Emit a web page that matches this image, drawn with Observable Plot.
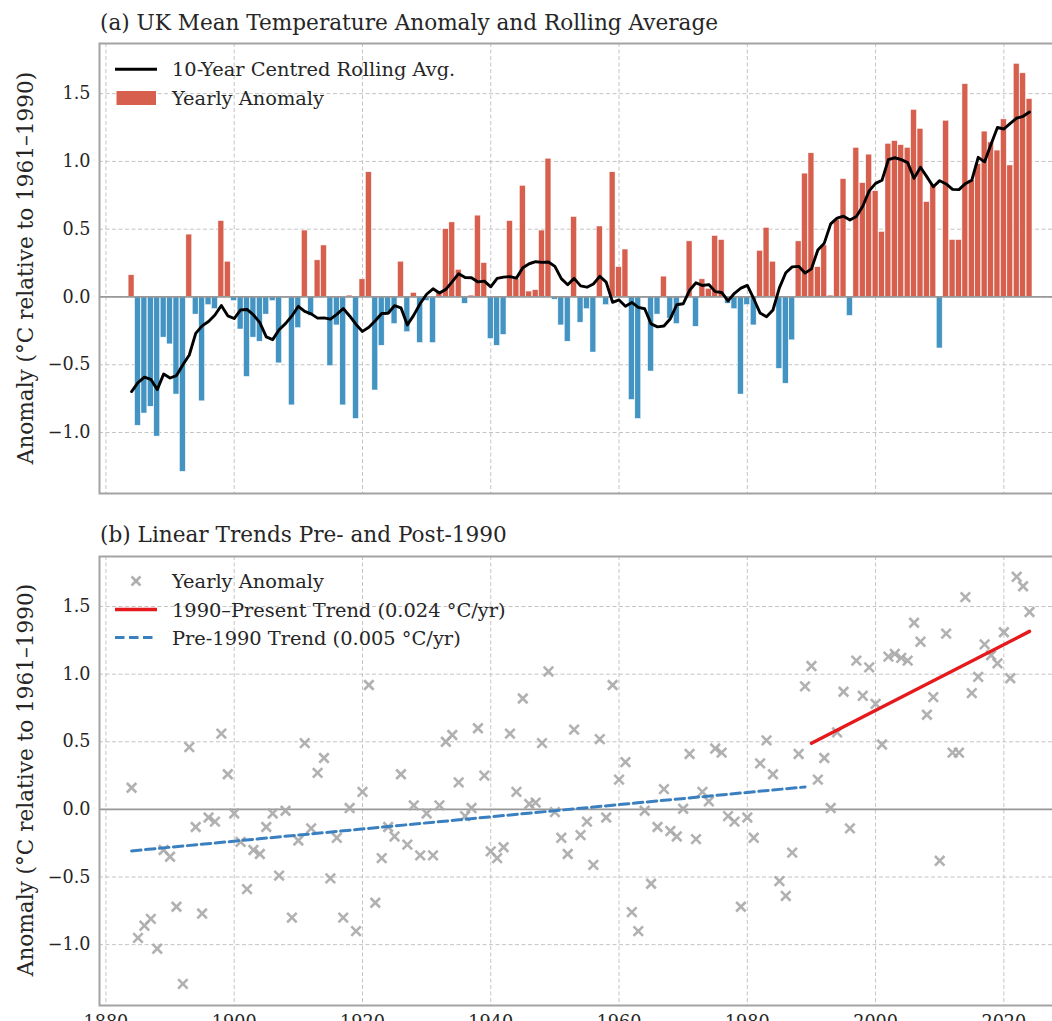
<!DOCTYPE html>
<html>
<head>
<meta charset="utf-8">
<script src="https://cdn.jsdelivr.net/npm/d3@7"></script>
<script src="https://cdn.jsdelivr.net/npm/@observablehq/plot@0.6"></script>
<style>
  html, body { margin: 0; padding: 0; background: #fff; overflow: hidden; width: 1052px; height: 1021px; }
  #root { position: relative; width: 1052px; height: 1021px; overflow: hidden; font-family: "DejaVu Serif", serif; }
  #root svg.plotsvg { position: absolute; left: 0; max-width: none; }
  #overlay { position: absolute; left: 0; top: 0; }
</style>
</head>
<body>
<div id="root"></div>
<script>
// ---------------- DATA ----------------
const FIRST_YEAR = 1884;
// UK yearly mean temperature anomaly (°C relative to 1961–1990), 1884–2024
const anomaly = [
  0.16, -0.95, -0.86, -0.81, -1.03, -0.30, -0.35, -0.72, -1.29, 0.46,   // 1884-1893
  -0.13, -0.77, -0.06, -0.09, 0.56, 0.26, -0.03, -0.24, -0.59, -0.30,   // 1894-1903
  -0.33, -0.13, -0.03, -0.49, -0.01, -0.80, -0.23, 0.49, -0.14, 0.27,   // 1904-1913
  0.38, -0.51, -0.21, -0.80, 0.01, -0.90, 0.13, 0.92, -0.69, -0.36,     // 1914-1923
  -0.13, -0.20, 0.26, -0.26, 0.03, -0.34, -0.03, -0.34, 0.03, 0.50,     // 1924-1933
  0.55, 0.20, -0.05, 0.01, 0.60, 0.25, -0.31, -0.36, -0.28, 0.56,       // 1934-1943
  0.13, 0.82, 0.04, 0.05, 0.49, 1.02, -0.02, -0.21, -0.33, 0.59,        // 1944-1953
  -0.19, -0.09, -0.41, 0.52, -0.06, 0.92, 0.22, 0.35, -0.76, -0.90,     // 1954-1963
  -0.01, -0.55, -0.13, 0.15, -0.16, -0.20, 0.005, 0.41, -0.22, 0.13,    // 1964-1973
  0.06, 0.45, 0.42, -0.05, -0.09, -0.72, -0.06, -0.21, 0.34, 0.51,      // 1974-1983
  0.26, -0.53, -0.64, -0.32, 0.41, 0.91, 1.06, 0.22, 0.38, 0.01,        // 1984-1993
  0.57, 0.87, -0.14, 1.10, 0.84, 1.05, 0.78, 0.48, 1.13, 1.15,          // 1994-2003
  1.12, 1.10, 1.38, 1.24, 0.70, 0.83, -0.38, 1.30, 0.42, 0.42,          // 2004-2013
  1.57, 0.86, 0.98, 1.22, 1.14, 1.08, 1.31, 0.97, 1.72, 1.65,           // 2014-2023
  1.46                                                                  // 2024
];
const xTickValues = [1880, 1900, 1920, 1940, 1960, 1980, 2000, 2020];
const yTickValues = [-1.0, -0.5, 0.0, 0.5, 1.0, 1.5];
const ROLL_WINDOW = 10;
const BREAK_YEAR = 1990;

const titleA = "(a) UK Mean Temperature Anomaly and Rolling Average";
const titleB = "(b) Linear Trends Pre- and Post-1990";
const yLabelText = "Anomaly (°C relative to 1961–1990)";
const legendRolling = "10-Year Centred Rolling Avg.";
const legendYearly = "Yearly Anomaly";
const legendPost = "1990–Present Trend (0.024 °C/yr)";
const legendPre = "Pre-1990 Trend (0.005 °C/yr)";

// ---------------- STYLE ----------------
const RED_BAR = "#d6604d";
const BLUE_BAR = "#4393c3";
const RED_TREND = "#e41a1c";
const BLUE_TREND = "#3a80c0";
const GRID = "#c4c4c4";
const FRAME = "#a3a3a3";
const TEXT = "#262626";
const FONT = "DejaVu Serif";
const TITLE_SIZE = 21.6;
const LEGEND_SIZE = 19.4;
const TICK_SIZE = 17.6;

// ---------------- DERIVED ----------------
const rows = anomaly.map((v, i) => ({year: FIRST_YEAR + i, value: v}));

// 10-year centred rolling mean (window i-5 .. i+4, partial windows allowed)
const half = ROLL_WINDOW / 2;
const rolling = rows.map((d, i) => {
  const w = rows.slice(Math.max(0, i - half), Math.min(rows.length, i + half));
  return {year: d.year, value: d3.mean(w, r => r.value)};
});

function fitLine(subset) {
  const mx = d3.mean(subset, d => d.year), my = d3.mean(subset, d => d.value);
  const sxy = d3.sum(subset, d => (d.year - mx) * (d.value - my));
  const sxx = d3.sum(subset, d => (d.year - mx) ** 2);
  const slope = sxy / sxx, intercept = my - slope * mx;
  const ext = d3.extent(subset, d => d.year);
  return ext.map(yr => ({year: yr, value: intercept + slope * yr}));
}
const preTrend = fitLine(rows.filter(d => d.year < BREAK_YEAR));
const postTrend = fitLine(rows.filter(d => d.year >= BREAK_YEAR));

const fmtY = d => d3.format(".1f")(d).replace("-", "−");
const X_DOMAIN = [1879, 2028.83];
const Y_DOMAIN = [-1.45, 1.87];

const common = {
  width: 1060,
  marginLeft: 99,
  marginRight: 0,
  x: {domain: X_DOMAIN, axis: null},
  y: {domain: Y_DOMAIN, axis: null},
  style: {fontFamily: FONT, fontSize: TICK_SIZE + "px", color: TEXT, background: "transparent", overflow: "visible"}
};

const gridMarks = () => [
  Plot.gridX(xTickValues, {stroke: GRID, strokeOpacity: 1, strokeWidth: 1, strokeDasharray: "4,2.5"}),
  Plot.gridY(yTickValues, {stroke: GRID, strokeOpacity: 1, strokeWidth: 1, strokeDasharray: "4,2.5"})
];

// Panel (a)
const plotA = Plot.plot({
  ...common,
  height: 500,
  marginTop: 43,
  marginBottom: 7,
  marks: [
    ...gridMarks(),
    Plot.rect(rows, {
      x1: d => d.year - 0.46, x2: d => d.year + 0.46,
      y1: 0, y2: "value",
      fill: d => d.value >= 0 ? RED_BAR : BLUE_BAR,
      stroke: "white", strokeWidth: 0.5
    }),
    Plot.ruleY([0], {stroke: "#999", strokeWidth: 1.8}),
    Plot.lineY(rolling, {x: "year", y: "value", stroke: "black", strokeWidth: 2.9, curve: "linear"}),
    Plot.axisY(yTickValues, {anchor: "left", tickSize: 0, tickPadding: 9, tickFormat: fmtY, label: null, fill: TEXT, fontSize: TICK_SIZE}),
    Plot.frame({stroke: FRAME, strokeWidth: 2})
  ]
});

// Panel (b)
const plotB = Plot.plot({
  ...common,
  height: 540,
  marginTop: 56,
  marginBottom: 35,
  marks: [
    ...gridMarks(),
    Plot.ruleY([0], {stroke: "#999", strokeWidth: 1.8}),
    Plot.dot(rows, {x: "year", y: "value", symbol: "times", r: 4.4, stroke: "#a8a8a8", strokeWidth: 2.6, strokeOpacity: 0.9}),
    Plot.line(postTrend, {x: "year", y: "value", stroke: RED_TREND, strokeWidth: 3.4}),
    Plot.line(preTrend, {x: "year", y: "value", stroke: BLUE_TREND, strokeWidth: 3, strokeDasharray: "9.5,4.5"}),
    Plot.axisY(yTickValues, {anchor: "left", tickSize: 0, tickPadding: 9, tickFormat: fmtY, label: null, fill: TEXT, fontSize: TICK_SIZE}),
    Plot.axisX(xTickValues, {anchor: "bottom", tickSize: 0, tickPadding: 10, tickFormat: d => String(d), label: null, fill: TEXT, fontSize: TICK_SIZE}),
    Plot.frame({stroke: FRAME, strokeWidth: 2})
  ]
});

const root = document.getElementById("root");
plotA.classList.add("plotsvg"); plotA.style.top = "0px";
plotB.classList.add("plotsvg"); plotB.style.top = "500px";
root.appendChild(plotA);
root.appendChild(plotB);

// ---------------- TEXT / LEGEND OVERLAY ----------------
const ns = "http://www.w3.org/2000/svg";
const ov = d3.select(root).append("svg")
  .attr("id", "overlay").attr("xmlns", ns)
  .attr("width", 1052).attr("height", 1021)
  .style("font-family", FONT).style("fill", TEXT);

function txt(s, x, y, size, opts = {}) {
  const t = ov.append("text").attr("x", x).attr("y", y)
    .attr("font-size", size).attr("fill", TEXT).text(s);
  if (opts.anchor) t.attr("text-anchor", opts.anchor);
  if (opts.rotate) t.attr("transform", `rotate(-90 ${x} ${y})`);
  return t;
}

txt(titleA, 100, 30, TITLE_SIZE);
txt(titleB, 100, 541.5, TITLE_SIZE);
txt(yLabelText, 33, 268, TITLE_SIZE, {anchor: "middle", rotate: true});
txt(yLabelText, 33, 780, TITLE_SIZE, {anchor: "middle", rotate: true});

// Legend (a)
ov.append("line").attr("x1", 115).attr("x2", 157).attr("y1", 69.3).attr("y2", 69.3)
  .attr("stroke", "black").attr("stroke-width", 2.9);
txt(legendRolling, 172, 76, LEGEND_SIZE);
ov.append("rect").attr("x", 116.5).attr("y", 91).attr("width", 39.5).attr("height", 14).attr("fill", RED_BAR);
txt(legendYearly, 172, 104.5, LEGEND_SIZE);

// Legend (b)
const mk = ov.append("g").attr("transform", "translate(136,581)")
  .attr("stroke", "#a8a8a8").attr("stroke-width", 2.6).attr("stroke-opacity", 0.9);
mk.append("line").attr("x1", -4.5).attr("y1", -4.5).attr("x2", 4.5).attr("y2", 4.5);
mk.append("line").attr("x1", -4.5).attr("y1", 4.5).attr("x2", 4.5).attr("y2", -4.5);
txt(legendYearly, 172, 588, LEGEND_SIZE);
ov.append("line").attr("x1", 115).attr("x2", 157).attr("y1", 609.5).attr("y2", 609.5)
  .attr("stroke", RED_TREND).attr("stroke-width", 3.4);
txt(legendPost, 172, 616.5, LEGEND_SIZE);
ov.append("line").attr("x1", 115).attr("x2", 157).attr("y1", 637.5).attr("y2", 637.5)
  .attr("stroke", BLUE_TREND).attr("stroke-width", 3).attr("stroke-dasharray", "9.5,4.5");
txt(legendPre, 172, 644.5, LEGEND_SIZE);
</script>
</body>
</html>
